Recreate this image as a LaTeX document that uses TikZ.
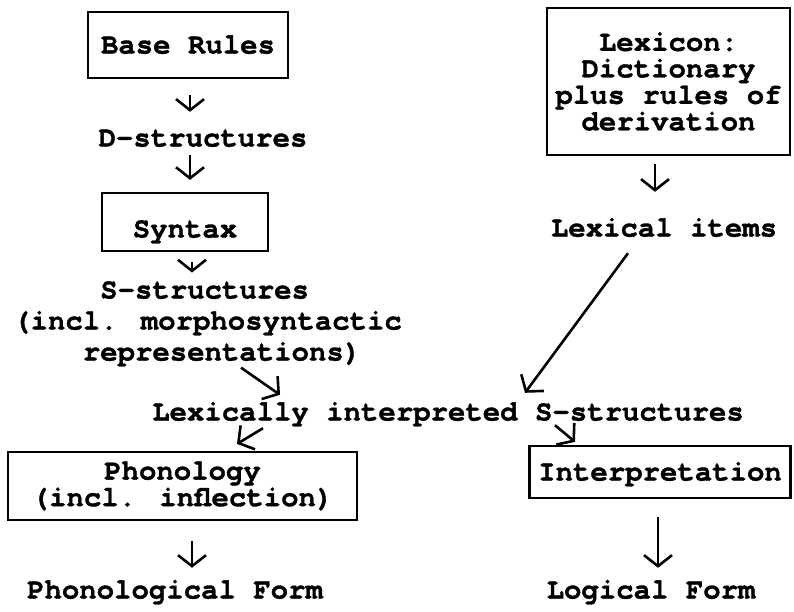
\documentclass[tikz,border=0pt]{standalone}
\usepackage{fontspec}
\setmainfont{TeX Gyre Cursor}[BoldFeatures={FakeBold=1.2}]
\usetikzlibrary{arrows.meta}
\begin{document}
\begin{tikzpicture}[x=1pt,y=-1pt,
  txt/.style={font=\bfseries\fontsize{29}{26.5}\selectfont, inner sep=0pt},
  one/.style={txt, text height=17pt, text depth=0pt},
  box/.style={draw, line width=2.2pt, inner sep=0pt, align=center, txt},
  arr/.style={line width=2.6pt, -{Straight Barb[length=11pt,width=28pt]}},
]
\useasboundingbox (0,0) rectangle (794,611);
% left column
\node[box, one, minimum width=200pt, minimum height=66pt] (base) at (188,45) {Base Rules};
\node[one] (dstr) at (203,138) {D-structures};
\node[box, text height=31pt, text depth=0pt, minimum width=166pt, minimum height=58pt] (syntax) at (185,222) {Syntax};
\node[txt, font=\bfseries\fontsize{29}{31}\selectfont, align=left, anchor=north west] (sstr) at (13,281)
  {\phantom{xxxxx}S-structures\\(incl. morphosyntactic\\\phantom{xxxx}representations)};
% right column
\node[box, minimum width=243pt, minimum height=147pt] (lexicon) at (668.5,81.5)
  {\rule{0pt}{14pt}Lexicon:\\Dictionary\\plus rules of\\derivation};
\node[one] (lexitems) at (664,228) {Lexical items};
% middle
\node[one] (lexint) at (448,412) {Lexically interpreted S-structures};
% bottom
\node[box, minimum width=349pt, minimum height=68pt] (phon) at (182.5,486) {Phonology\\(incl. inflection)};
\node[box, one, minimum width=261pt, minimum height=52pt] (interp) at (660,472) {Interpretation};
\node[one] (phonform) at (175,590) {Phonological Form};
\node[one] (logform) at (651,590) {Logical Form};
% column coordinates
\coordinate (colA) at (190,0);
\coordinate (colB) at (655,0);
\coordinate (colC) at (192,0);
\coordinate (colD) at (658,0);
% arrows
\draw[arr] ([yshift=-16pt]base.south -| colA) -- ([yshift=17.5pt]dstr.north -| colA);
\draw[arr] ([yshift=-8.5pt]dstr.south -| colA) -- ([yshift=12pt]syntax.north -| colA);
\draw[arr] ([yshift=-10pt]syntax.south -| colC) -- ([yshift=8.5pt]sstr.north -| colC);
\draw[arr] ([yshift=-8pt]lexicon.south -| colB) -- ([yshift=27.5pt]lexitems.north -| colB);
\draw[arr] ([xshift=33.5pt,yshift=-1pt]sstr.south) -- ([xshift=-168pt,yshift=8.5pt]lexint.north);
\draw[arr] ([xshift=-36pt,yshift=-16.5pt]lexitems.south) -- ([xshift=77pt,yshift=10.5pt]lexint.north);
\draw[arr] ([xshift=-185pt,yshift=-7.5pt]lexint.south) -- ([xshift=54.5pt,yshift=7pt]phon.north);
\draw[arr] ([xshift=107pt,yshift=-4.5pt]lexint.south) -- ([xshift=-85pt,yshift=3pt]interp.north);
\draw[arr] ([yshift=-20pt]phon.south -| colC) -- ([yshift=13.5pt]phonform.north -| colC);
\draw[arr] ([yshift=-18pt]interp.south -| colD) -- ([yshift=13.5pt]logform.north -| colD);
\end{tikzpicture}
\end{document}
